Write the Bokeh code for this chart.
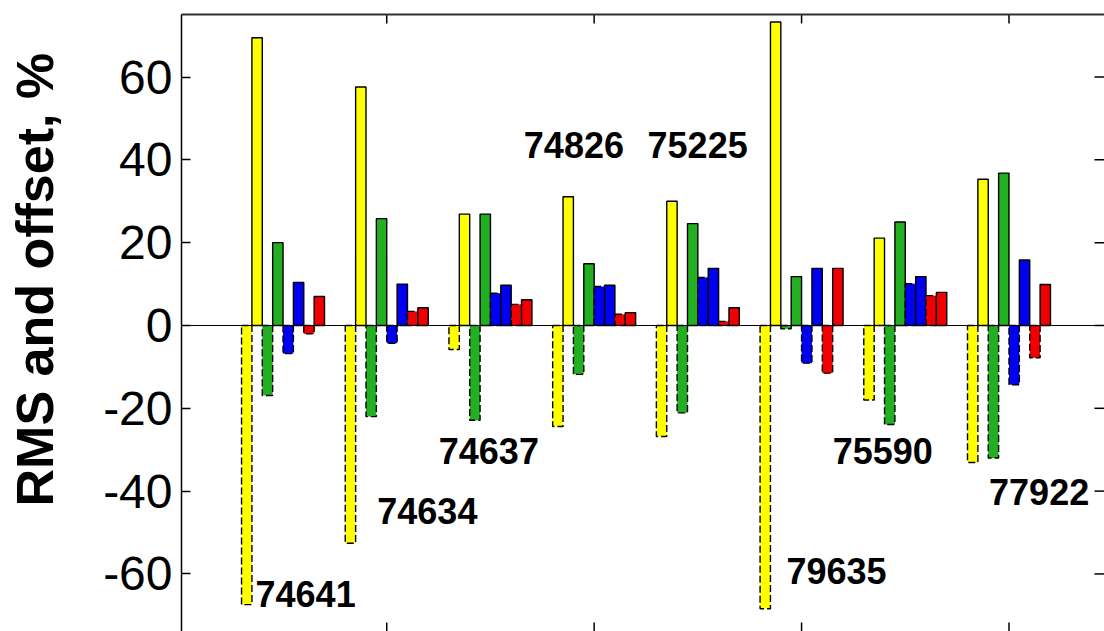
import math
from bokeh.plotting import figure
from bokeh.models import (Range1d, LinearAxis, FixedTicker, Span, ColumnDataSource,
                          CustomJSTickFormatter)
from bokeh.core.properties import value
from bokeh.embed import file_html
from bokeh.resources import INLINE

# ---- data ----
stations = ["74641", "74634", "74637", "74826", "75225", "79635", "75590", "77922"]
groups = [1, 2, 3, 4, 5, 6, 7, 8]

yellow_offset = [-67.4, -52.6, -5.8, -24.4, -26.8, -68.4, -18.0, -33.1]
yellow_rms = [69.5, 57.6, 26.9, 31.1, 30.0, 73.3, 21.1, 35.3]
green_offset = [-16.9, -22.0, -22.9, -11.8, -21.1, -0.8, -23.9, -32.0]
green_rms = [20.0, 25.8, 26.9, 14.9, 24.6, 11.8, 25.0, 36.8]
blue_offset = [-6.8, -4.3, 7.8, 9.4, 11.6, -9.1, 10.1, -14.3]
blue_rms = [10.4, 10.0, 9.7, 9.7, 13.8, 13.8, 11.8, 15.8]
red_offset = [-2.0, 3.4, 5.1, 2.7, 1.0, -11.5, 7.2, -7.8]
red_rms = [7.0, 4.3, 6.2, 3.1, 4.3, 13.8, 8.0, 9.9]

y_ticks = [-60, -40, -20, 0, 20, 40, 60]
x_ticks = [0, 2, 4, 6, 8]
y_label = "RMS and offset, %"

# annotation positions for station labels (data units, left/baseline)
label_x = [0.735, 1.909, 2.502, 3.322, 4.515, 5.855, 6.30, 7.808]
label_y = [-64.8, -44.9, -30.4, 43.5, 43.5, -59.4, -30.2, -40.3]

# ---- styling / layout ----
YELLOW = "#FFFF00"
GREEN = "#22B022"
BLUE = "#0000F0"
RED = "#F00000"

W, H = 1104, 631
BORDER_LEFT, BORDER_TOP = 181, 14
X0, X1 = 0.021, 8.921
Y0, Y1 = -73.9, 75.1
FRAME_W = W - BORDER_LEFT
FRAME_H = H - BORDER_TOP
TICK_DY = 9 * (Y1 - Y0) / FRAME_H      # 9 px in data units
TICK_DX = 10 * (X1 - X0) / FRAME_W     # 10 px in data units

series = [
    (yellow_offset, YELLOW, True),
    (yellow_rms, YELLOW, False),
    (green_offset, GREEN, True),
    (green_rms, GREEN, False),
    (blue_offset, BLUE, True),
    (blue_rms, BLUE, False),
    (red_offset, RED, True),
    (red_rms, RED, False),
]

p = figure(
    width=W, height=H,
    x_range=Range1d(X0, X1), y_range=Range1d(Y0, Y1),
    output_backend="svg", toolbar_location=None,
    x_axis_location=None, y_axis_location=None,
    min_border_left=BORDER_LEFT, min_border_top=BORDER_TOP,
    min_border_right=0, min_border_bottom=0,
    background_fill_color="white", border_fill_color="white",
)
p.outline_line_color = None
p.grid.visible = False

bar_w = 0.1
n = len(series)
for i, (vals, col, is_offset) in enumerate(series):
    off = (i - (n - 1) / 2) * bar_w
    src = ColumnDataSource(dict(x=[g + off for g in groups], top=vals))
    p.vbar(x="x", top="top", bottom=0, width=bar_w, source=src,
           fill_color=col, line_color="black", line_width=1.4,
           line_dash="7 3" if is_offset else "solid")

p.add_layout(Span(location=0, dimension="width", line_color="black", line_width=1.2))

p.text(x=label_x, y=label_y, text=stations,
       text_font=value("Liberation Sans"), text_font_style="bold",
       text_font_size="36px", text_align="left", text_baseline="alphabetic",
       text_color="black")

# inward tick marks on top, bottom and right edges
nx, ny = len(x_ticks), len(y_ticks)
p.segment(x0=x_ticks, x1=x_ticks, y0=[Y1] * nx, y1=[Y1 - TICK_DY] * nx,
          line_color="black", line_width=1.5)
p.segment(x0=x_ticks, x1=x_ticks, y0=[Y0] * nx, y1=[Y0 + TICK_DY] * nx,
          line_color="black", line_width=1.5)
p.segment(x0=[X1] * ny, x1=[X1 - TICK_DX] * ny, y0=y_ticks, y1=y_ticks,
          line_color="black", line_width=1.5)

# left axis
ya = LinearAxis(ticker=FixedTicker(ticks=y_ticks, minor_ticks=[]),
                formatter=CustomJSTickFormatter(code="return tick.toString();"))
# leading no-break spaces shift the centred title upwards, as in the original
ya.axis_label = "\u00a0" * 6 + y_label
ya.axis_label_text_font = "Liberation Sans"
ya.axis_label_text_font_style = "bold"
ya.axis_label_text_font_size = "52px"
ya.axis_label_text_color = "black"
ya.axis_label_standoff = 36
ya.major_label_text_font = "Liberation Sans"
ya.major_label_text_font_size = "48px"
ya.major_label_text_color = "black"
ya.major_label_standoff = 9
ya.major_tick_in = 9
ya.major_tick_out = 0
ya.major_tick_line_color = "black"
ya.major_tick_line_width = 1.5
ya.minor_tick_line_color = None
ya.axis_line_color = "black"
ya.axis_line_width = 1.5
p.add_layout(ya, "left")

# top axis: line only
ta = LinearAxis(ticker=FixedTicker(ticks=[], minor_ticks=[]))
ta.major_label_standoff = 0
ta.major_tick_in = 0
ta.major_tick_out = 0
ta.minor_tick_line_color = None
ta.axis_line_color = "#333333"
ta.axis_line_width = 2
p.add_layout(ta, "above")

open("out.html", "w").write(file_html(p, INLINE))
